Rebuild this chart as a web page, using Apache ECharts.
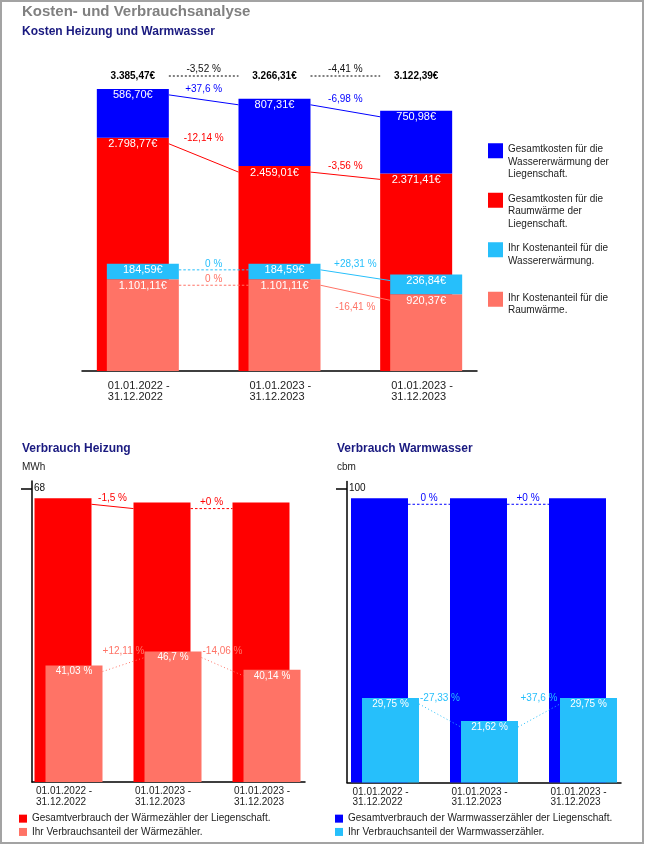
<!DOCTYPE html>
<html><head><meta charset="utf-8">
<script src="https://cdn.jsdelivr.net/npm/echarts@6/dist/echarts.min.js"></script>
<style>html,body{margin:0;padding:0;background:#fff}#c{width:645px;height:845px}</style>
</head><body><div id="c"></div>
<script>
// ---------- data ----------
const periods = ['01.01.2022 -\n31.12.2022', '01.01.2023 -\n31.12.2023', '01.01.2023 -\n31.12.2023'];
// Kosten (EUR)
const costTotal = [3385.47, 3266.31, 3122.39];
const costHeatTotal = [2798.77, 2459.01, 2371.41];
const costWaterTotal = [586.70, 807.31, 750.98];
const costHeatShare = [1101.11, 1101.11, 920.37];
const costWaterShare = [184.59, 184.59, 236.84];
const costTotalChange = ['-3,52 %', '-4,41 %'];
const costWaterTotalChange = ['+37,6 %', '-6,98 %'];
const costHeatTotalChange = ['-12,14 %', '-3,56 %'];
const costWaterShareChange = ['0 %', '+28,31 %'];
const costHeatShareChange = ['0 %', '-16,41 %'];
// Verbrauch Heizung (MWh)
const heatTotal = [65.7, 64.7, 64.7];
const heatShare = [26.96, 30.21, 25.97];
const heatSharePct = ['41,03 %', '46,7 %', '40,14 %'];
const heatTotalChange = ['-1,5 %', '+0 %'];
const heatShareChange = ['+12,11 %', '-14,06 %'];
const heatTicks = [68];
// Verbrauch Warmwasser (cbm)
const waterTotal = [96.6, 96.6, 96.6];
const waterShare = [28.74, 20.88, 28.74];
const waterSharePct = ['29,75 %', '21,62 %', '29,75 %'];
const waterTotalChange = ['0 %', '+0 %'];
const waterShareChange = ['-27,33 %', '+37,6 %'];
const waterTicks = [100];

// ---------- names ----------
const N_CW = 'Gesamtkosten für die\nWassererwärmung der\nLiegenschaft.';
const N_CH = 'Gesamtkosten für die\nRaumwärme der\nLiegenschaft.';
const N_SW = 'Ihr Kostenanteil für die\nWassererwärmung.';
const N_SH = 'Ihr Kostenanteil für die\nRaumwärme.';
const N_HT = 'Gesamtverbrauch der Wärmezähler der Liegenschaft.';
const N_HS = 'Ihr Verbrauchsanteil der Wärmezähler.';
const N_WT = 'Gesamtverbrauch der Warmwasserzähler der Liegenschaft.';
const N_WS = 'Ihr Verbrauchsanteil der Warmwasserzähler.';

// ---------- style ----------
const BLUE = '#0000FF', RED = '#FF0000', LBLUE = '#26BFFB', SALMON = '#FF7366';
const FONT = 'Liberation Sans, Arial, Helvetica, sans-serif';
const NAVY = '#1a1a80';
const COST_MAX = 3600, HEAT_MAX = 69.7, WATER_MAX = 102.3;

function eur(v) {
  const parts = Number(v).toFixed(2).split('.');
  return parts[0].replace(/\B(?=(\d{3})+(?!\d))/g, '.') + ',' + parts[1] + '€';
}
function sum(a, b) { return a.map((v, i) => v + b[i]); }

function richFmt(v) { return v.split('\n').map(s => '{t|' + s + '}').join('\n'); }

function catAxisLabels(gi, width, fontSize, margin) {
  return {
    gridIndex: gi, type: 'category', data: periods,
    axisLine: { show: false }, axisTick: { show: false },
    axisLabel: { margin: margin, interval: 0, hideOverlap: false, formatter: richFmt,
      rich: { t: { width: width, align: 'left', fontSize: fontSize, lineHeight: fontSize + 0.5, color: '#222', fontFamily: FONT } } }
  };
}
function catAxisLine(gi) {
  return {
    gridIndex: gi, type: 'category', data: periods,
    axisLine: { show: true, lineStyle: { color: '#000', width: 1.5 } },
    axisTick: { show: false }, axisLabel: { show: false }
  };
}

// connector between neighbouring bars + change label
function connector(o) {
  const tops = o.tops;
  return {
    type: 'custom', xAxisIndex: o.gi, yAxisIndex: o.gi, z: 10, silent: true,
    data: tops.map((v, i) => [i, v]),
    renderItem: function (params, api) {
      const i = params.dataIndex;
      if (i >= tops.length - 1) return null;
      const a = api.coord([i, api.value(1)]);
      const b = api.coord([i + 1, tops[i + 1]]);
      const x0 = a[0] + o.off + o.half, x1 = b[0] + o.off - o.half;
      const y0 = a[1] + 6, y1 = b[1] + 6;
      const flat = tops[i] === tops[i + 1];
      const below = (o.below || []).indexOf(i) >= 0;
      const ly = below ? Math.max(a[1], b[1]) + 12.5 : Math.min(a[1], b[1]);
      return {
        type: 'group', children: [
          { type: 'line', shape: { x1: x0, y1: y0, x2: x1, y2: y1 },
            style: { stroke: o.color, lineWidth: 1, lineDash: flat ? [2.5, 2] : (o.sloped || null) } },
          { type: 'text', style: { text: o.labels[i], x: (x0 + x1) / 2, y: ly, fill: o.color,
            fontSize: 10, fontFamily: FONT, align: 'center', verticalAlign: 'middle' } }
        ]
      };
    }
  };
}

function barSeries(name, gi, stack, data, color, width, gap, label) {
  return {
    type: 'bar', name: name, xAxisIndex: gi, yAxisIndex: gi, stack: stack, data: data,
    barWidth: width, barGap: gap, itemStyle: { color: color },
    label: label || { show: false }
  };
}
function inLabel(fmt, fs) {
  return { show: true, position: 'insideTop', distance: 1, color: '#fff', fontSize: fs, fontFamily: FONT, formatter: fmt };
}

const chart = echarts.init(document.getElementById('c'), null, { renderer: 'canvas' });

const option = {
  animation: false,
  textStyle: { fontFamily: FONT },
  graphic: [{ type: 'rect', silent: true, shape: { x: 1, y: 1, width: 642, height: 842 },
    style: { fill: 'none', stroke: '#a3a3a3', lineWidth: 2 } }],
  title: [
    { text: 'Kosten- und Verbrauchsanalyse', left: 22, top: 4, padding: 0,
      textStyle: { fontSize: 15, fontWeight: 'bold', color: '#808080', fontFamily: FONT } },
    { text: 'Kosten Heizung und Warmwasser', left: 22, top: 26, padding: 0,
      textStyle: { fontSize: 12, fontWeight: 'bold', color: NAVY, fontFamily: FONT } },
    { text: 'Verbrauch Heizung', left: 22, top: 443, padding: 0,
      textStyle: { fontSize: 12, fontWeight: 'bold', color: NAVY, fontFamily: FONT } },
    { text: 'MWh', left: 22, top: 462, padding: 0,
      textStyle: { fontSize: 10, fontWeight: 'normal', color: '#222', fontFamily: FONT } },
    { text: 'Verbrauch Warmwasser', left: 337, top: 443, padding: 0,
      textStyle: { fontSize: 12, fontWeight: 'bold', color: NAVY, fontFamily: FONT } },
    { text: 'cbm', left: 337, top: 462, padding: 0,
      textStyle: { fontSize: 10, fontWeight: 'normal', color: '#222', fontFamily: FONT } }
  ],
  legend: [
    { data: [N_CW, N_CH, N_SW, N_SH], orient: 'vertical', left: 488, top: 143, padding: 0,
      itemWidth: 15, itemHeight: 37, itemGap: 12, selectedMode: false,
      icon: 'path://M0,0H15V15H0Z M0,36.95H0.05V37H0Z',
      formatter: n => n.split('\n').length < 3 ? n + '\n ' : n,
      textStyle: { fontSize: 10, lineHeight: 12.5, color: '#222', fontFamily: FONT } },
    { data: [N_HT, N_HS], orient: 'vertical', left: 19, top: 812, padding: 0,
      itemWidth: 8, itemHeight: 8, itemGap: 0, icon: 'rect', selectedMode: false,
      textStyle: { fontSize: 10, lineHeight: 13.3, color: '#222', fontFamily: FONT } },
    { data: [N_WT, N_WS], orient: 'vertical', left: 335, top: 812, padding: 0,
      itemWidth: 8, itemHeight: 8, itemGap: 0, icon: 'rect', selectedMode: false,
      textStyle: { fontSize: 10, lineHeight: 13.3, color: '#222', fontFamily: FONT } }
  ],
  grid: [
    { left: 67, top: 71, width: 425, height: 300 },
    { left: 82, top: 71, width: 395, height: 300 },
    { left: 19, top: 481, width: 297, height: 301 },
    { left: 32, top: 481, width: 273, height: 301 },
    { left: 335.5, top: 481.5, width: 297, height: 301 },
    { left: 347, top: 481.5, width: 274, height: 301 }
  ],
  xAxis: [
    catAxisLabels(0, 60, 11, 9),
    catAxisLine(1),
    catAxisLabels(2, 65, 10, 4),
    catAxisLine(3),
    catAxisLabels(4, 65, 10, 4),
    catAxisLine(5)
  ],
  yAxis: [
    { gridIndex: 0, type: 'value', min: 0, max: COST_MAX, show: false },
    { gridIndex: 1, type: 'value', min: 0, max: COST_MAX, show: false },
    { gridIndex: 2, type: 'value', min: 0, max: HEAT_MAX, show: false },
    { gridIndex: 3, type: 'value', min: 0, max: HEAT_MAX, splitLine: { show: false },
      axisLine: { show: true, lineStyle: { color: '#000', width: 1.5 } },
      axisTick: { show: true, inside: false, length: 11, customValues: heatTicks, lineStyle: { color: '#000', width: 1.5 } },
      axisLabel: { inside: true, margin: 2, fontSize: 10, color: '#111', customValues: heatTicks } },
    { gridIndex: 4, type: 'value', min: 0, max: WATER_MAX, show: false },
    { gridIndex: 5, type: 'value', min: 0, max: WATER_MAX, splitLine: { show: false },
      axisLine: { show: true, lineStyle: { color: '#000', width: 1.5 } },
      axisTick: { show: true, inside: false, length: 11, customValues: waterTicks, lineStyle: { color: '#000', width: 1.5 } },
      axisLabel: { inside: true, margin: 2, fontSize: 10, color: '#111', customValues: waterTicks } }
  ],
  series: [
    // top chart bars
    barSeries(N_CH, 0, 'costTotal', costHeatTotal, RED, 72, '-86.1%', inLabel(p => eur(p.value), 11)),
    barSeries(N_CW, 0, 'costTotal', costWaterTotal, BLUE, 72, '-86.1%', inLabel(p => eur(p.value), 11)),
    barSeries(N_SH, 0, 'costShare', costHeatShare, SALMON, 72, '-86.1%', inLabel(p => eur(p.value), 11)),
    barSeries(N_SW, 0, 'costShare', costWaterShare, LBLUE, 72, '-86.1%', inLabel(p => eur(p.value), 11)),
    // totals above bars
    {
      type: 'custom', xAxisIndex: 0, yAxisIndex: 0, z: 10, silent: true,
      data: costTotal.map((v, i) => [i, v]),
      renderItem: function (params, api) {
        const i = params.dataIndex;
        const c = api.coord([i, COST_MAX]);
        const ly = c[1] + 5, xc = c[0] - 5;
        const ch = [{ type: 'text', style: { text: eur(api.value(1)), x: xc, y: ly, fill: '#000',
          fontSize: 10, fontWeight: 'bold', fontFamily: FONT, align: 'center', verticalAlign: 'middle' } }];
        if (i < costTotal.length - 1) {
          const d = api.coord([i + 1, COST_MAX]);
          const x0 = xc + 36, x1 = d[0] - 5 - 36;
          ch.push({ type: 'line', shape: { x1: x0, y1: ly, x2: x1, y2: ly },
            style: { stroke: '#000', lineWidth: 1, lineDash: [2, 2] } });
          ch.push({ type: 'text', style: { text: costTotalChange[i], x: (x0 + x1) / 2, y: ly - 7, fill: '#111',
            fontSize: 10, fontFamily: FONT, align: 'center', verticalAlign: 'middle' } });
        }
        return { type: 'group', children: ch };
      }
    },
    connector({ gi: 0, tops: sum(costHeatTotal, costWaterTotal), labels: costWaterTotalChange, color: BLUE, off: -5, half: 36 }),
    connector({ gi: 0, tops: costHeatTotal, labels: costHeatTotalChange, color: RED, off: -5, half: 36 }),
    connector({ gi: 0, tops: sum(costHeatShare, costWaterShare), labels: costWaterShareChange, color: LBLUE, off: 5, half: 36 }),
    connector({ gi: 0, tops: costHeatShare, labels: costHeatShareChange, color: SALMON, off: 5, half: 36, below: [1] }),
    // heating
    barSeries(N_HT, 2, 'heatTotal', heatTotal, RED, 57, '-80.7%'),
    barSeries(N_HS, 2, 'heatShare', heatShare, SALMON, 57, '-80.7%', inLabel(p => heatSharePct[p.dataIndex], 10)),
    connector({ gi: 2, tops: heatTotal, labels: heatTotalChange, color: RED, off: -5.5, half: 28.5 }),
    connector({ gi: 2, tops: heatShare, labels: heatShareChange, color: SALMON, off: 5.5, half: 28.5, sloped: [1, 2.5] }),
    // hot water
    barSeries(N_WT, 4, 'waterTotal', waterTotal, BLUE, 57, '-80.7%'),
    barSeries(N_WS, 4, 'waterShare', waterShare, LBLUE, 57, '-80.7%', inLabel(p => waterSharePct[p.dataIndex], 10)),
    connector({ gi: 4, tops: waterTotal, labels: waterTotalChange, color: BLUE, off: -5.5, half: 28.5 }),
    connector({ gi: 4, tops: waterShare, labels: waterShareChange, color: LBLUE, off: 5.5, half: 28.5, sloped: [1, 2.5] })
  ]
};
chart.setOption(option);
</script>
</body></html>
